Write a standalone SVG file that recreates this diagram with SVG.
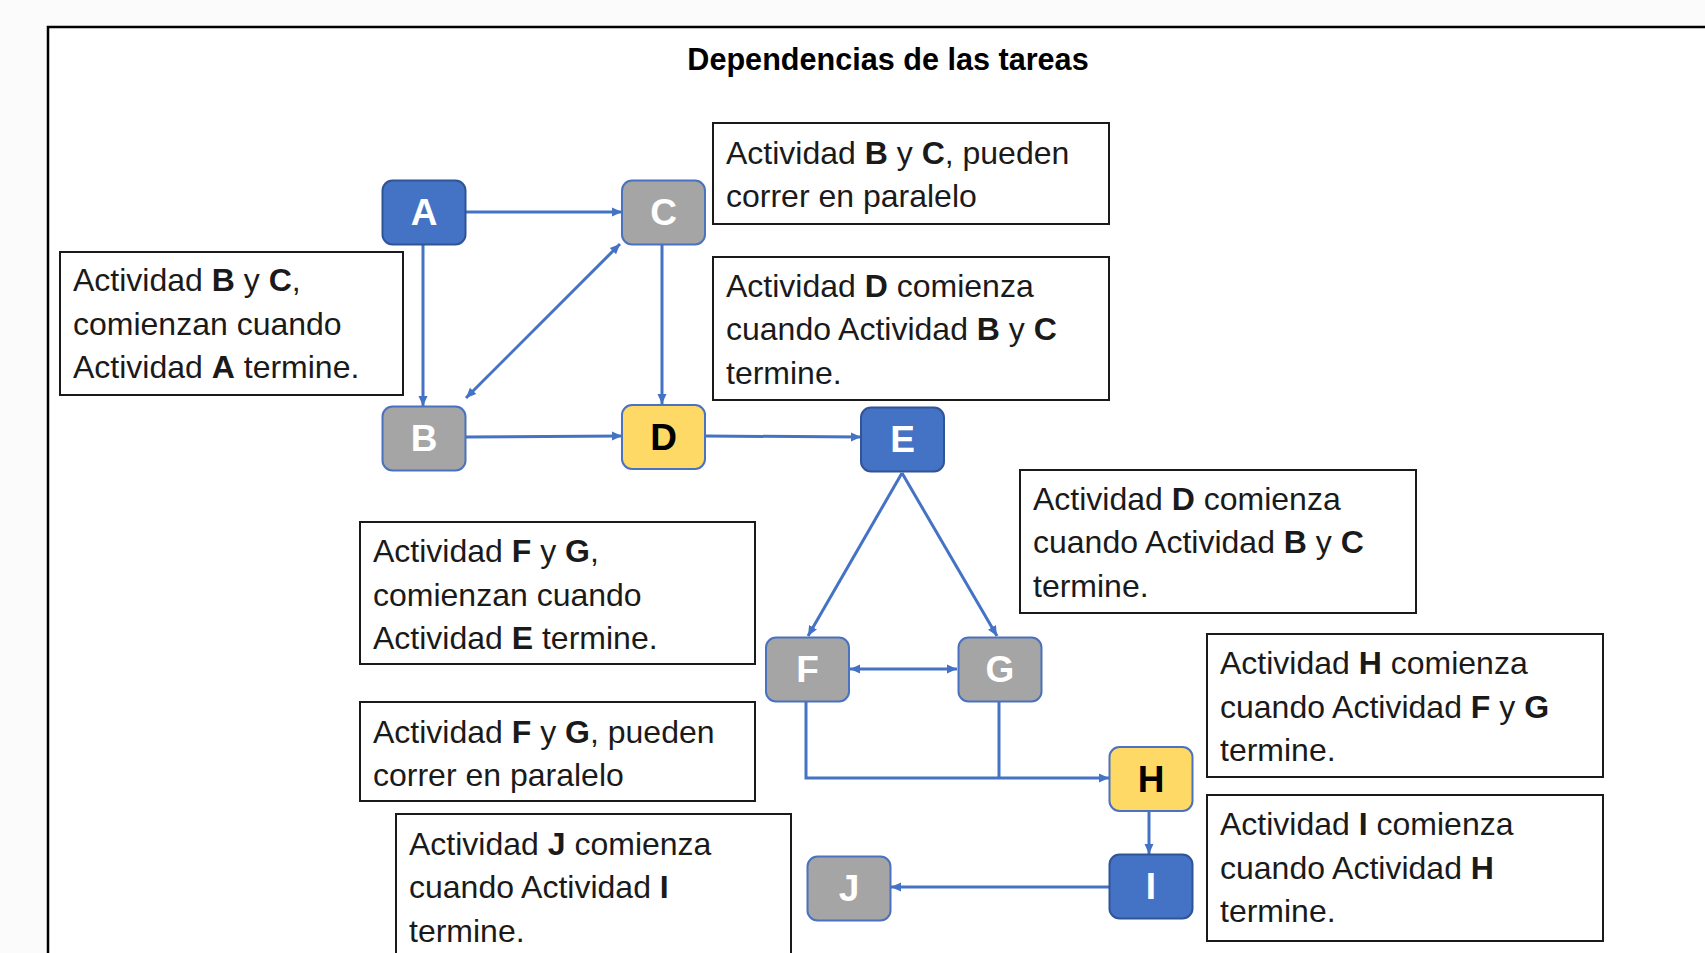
<svg xmlns="http://www.w3.org/2000/svg" width="1705" height="953" viewBox="0 0 1705 953">
  <defs>
    <style>
      .bg { fill: #fbfbfb; }
      .frame { fill: #ffffff; stroke: #000000; stroke-width: 2.5; }
      .title { font-family: "Liberation Sans", Arial, sans-serif; font-size: 30.6px; font-weight: bold; fill: #000; }
      .box { fill: #ffffff; stroke: #1a1a1a; stroke-width: 2; }
      .txt { font-family: "Liberation Sans", Arial, sans-serif; font-size: 32px; fill: #1a1a1a; }
      .b { font-weight: bold; }
      .blue { fill: #4472C4; stroke: #2F5597; stroke-width: 2; }
      .gray { fill: #A5A5A5; stroke: #4A72BE; stroke-width: 2; }
      .yellow { fill: #FFD966; stroke: #4A72BE; stroke-width: 2; }
      .lbl { font-family: "Liberation Sans", Arial, sans-serif; font-size: 37px; font-weight: bold; text-anchor: middle; }
      .w { fill: #ffffff; }
      .k { fill: #000000; }
      .con { fill: none; stroke: #4472C4; stroke-width: 3; }
    </style>
    <marker id="arr" viewBox="0 0 10 10" refX="10" refY="5" markerWidth="10" markerHeight="10" markerUnits="userSpaceOnUse" orient="auto-start-reverse">
      <path d="M0,0.5 L10,5 L0,9.5 z" fill="#4472C4"/>
    </marker>
  </defs>

  <rect class="bg" x="0" y="0" width="1705" height="953"/>
  <rect class="frame" x="48" y="27" width="1700" height="1000"/>

  <text class="title" x="888" y="70" text-anchor="middle">Dependencias de las tareas</text>

  <!-- Text boxes -->
  <g id="note-bc-paralelo">
    <rect class="box" x="713" y="123" width="396" height="101"/>
    <text class="txt" x="726" y="164">Actividad <tspan class="b">B</tspan> y <tspan class="b">C</tspan>, pueden</text>
    <text class="txt" x="726" y="207">correr en paralelo</text>
  </g>
  <g id="note-d-comienza">
    <rect class="box" x="713" y="257" width="396" height="143"/>
    <text class="txt" x="726" y="297">Actividad <tspan class="b">D</tspan> comienza</text>
    <text class="txt" x="726" y="340">cuando Actividad <tspan class="b">B</tspan> y <tspan class="b">C</tspan></text>
    <text class="txt" x="726" y="384">termine.</text>
  </g>
  <g id="note-bc-comienzan">
    <rect class="box" x="60" y="252" width="343" height="143"/>
    <text class="txt" x="73" y="291">Actividad <tspan class="b">B</tspan> y <tspan class="b">C</tspan>,</text>
    <text class="txt" x="73" y="335">comienzan cuando</text>
    <text class="txt" x="73" y="378">Actividad <tspan class="b">A</tspan> termine.</text>
  </g>
  <g id="note-d-comienza-2">
    <rect class="box" x="1020" y="470" width="396" height="143"/>
    <text class="txt" x="1033" y="510">Actividad <tspan class="b">D</tspan> comienza</text>
    <text class="txt" x="1033" y="553">cuando Actividad <tspan class="b">B</tspan> y <tspan class="b">C</tspan></text>
    <text class="txt" x="1033" y="597">termine.</text>
  </g>
  <g id="note-h-comienza">
    <rect class="box" x="1207" y="634" width="396" height="143"/>
    <text class="txt" x="1220" y="674">Actividad <tspan class="b">H</tspan> comienza</text>
    <text class="txt" x="1220" y="718">cuando Actividad <tspan class="b">F</tspan> y <tspan class="b">G</tspan></text>
    <text class="txt" x="1220" y="761">termine.</text>
  </g>
  <g id="note-i-comienza">
    <rect class="box" x="1207" y="795" width="396" height="146"/>
    <text class="txt" x="1220" y="835">Actividad <tspan class="b">I</tspan> comienza</text>
    <text class="txt" x="1220" y="879">cuando Actividad <tspan class="b">H</tspan></text>
    <text class="txt" x="1220" y="922">termine.</text>
  </g>
  <g id="note-fg-comienzan">
    <rect class="box" x="360" y="522" width="395" height="142"/>
    <text class="txt" x="373" y="562">Actividad <tspan class="b">F</tspan> y <tspan class="b">G</tspan>,</text>
    <text class="txt" x="373" y="606">comienzan cuando</text>
    <text class="txt" x="373" y="649">Actividad <tspan class="b">E</tspan> termine.</text>
  </g>
  <g id="note-fg-paralelo">
    <rect class="box" x="360" y="702" width="395" height="99"/>
    <text class="txt" x="373" y="743">Actividad <tspan class="b">F</tspan> y <tspan class="b">G</tspan>, pueden</text>
    <text class="txt" x="373" y="786">correr en paralelo</text>
  </g>
  <g id="note-j-comienza">
    <rect class="box" x="396" y="814" width="395" height="200"/>
    <text class="txt" x="409" y="855">Actividad <tspan class="b">J</tspan> comienza</text>
    <text class="txt" x="409" y="898">cuando Actividad <tspan class="b">I</tspan></text>
    <text class="txt" x="409" y="942">termine.</text>
  </g>

  <!-- Connectors -->
  <g id="connectors">
    <path class="con" d="M465,212 L622,212" marker-end="url(#arr)"/>
    <path class="con" d="M423,244 L423,406" marker-end="url(#arr)"/>
    <path class="con" d="M466,398 L620,244" marker-start="url(#arr)" marker-end="url(#arr)"/>
    <path class="con" d="M662,244 L662,404" marker-end="url(#arr)"/>
    <path class="con" d="M465,437 L622,436" marker-end="url(#arr)"/>
    <path class="con" d="M705,436 L861,437" marker-end="url(#arr)"/>
    <path class="con" d="M902,473 L808,636" marker-end="url(#arr)"/>
    <path class="con" d="M902,473 L997,636" marker-end="url(#arr)"/>
    <path class="con" d="M850,669 L957,669" marker-start="url(#arr)" marker-end="url(#arr)"/>
    <path class="con" d="M806,702 V778 H1109" marker-end="url(#arr)"/>
    <path class="con" d="M999,702 V778"/>
    <path class="con" d="M1149,811 V854" marker-end="url(#arr)"/>
    <path class="con" d="M1109,887 L891,887" marker-end="url(#arr)"/>
  </g>

  <!-- Nodes -->
  <g id="node-A"><rect class="blue" x="382.5" y="180.5" width="83" height="64" rx="10"/><text class="lbl w" x="424" y="225">A</text></g>
  <g id="node-C"><rect class="gray" x="622" y="180.5" width="83" height="64" rx="10"/><text class="lbl w" x="663.5" y="225">C</text></g>
  <g id="node-B"><rect class="gray" x="382.5" y="406.5" width="83" height="64" rx="10"/><text class="lbl w" x="424" y="451">B</text></g>
  <g id="node-D"><rect class="yellow" x="622" y="405" width="83" height="64" rx="10"/><text class="lbl k" x="663.5" y="449.5">D</text></g>
  <g id="node-E"><rect class="blue" x="861" y="407.5" width="83" height="64" rx="10"/><text class="lbl w" x="902.5" y="452">E</text></g>
  <g id="node-F"><rect class="gray" x="766" y="637.5" width="83" height="64" rx="10"/><text class="lbl w" x="807.5" y="682">F</text></g>
  <g id="node-G"><rect class="gray" x="958.5" y="637.5" width="83" height="64" rx="10"/><text class="lbl w" x="1000" y="682">G</text></g>
  <g id="node-H"><rect class="yellow" x="1109.5" y="747" width="83" height="64" rx="10"/><text class="lbl k" x="1151" y="791.5">H</text></g>
  <g id="node-I"><rect class="blue" x="1109.5" y="854.5" width="83" height="64" rx="10"/><text class="lbl w" x="1151" y="899">I</text></g>
  <g id="node-J"><rect class="gray" x="807.5" y="856.5" width="83" height="64" rx="10"/><text class="lbl w" x="849" y="901">J</text></g>
</svg>
